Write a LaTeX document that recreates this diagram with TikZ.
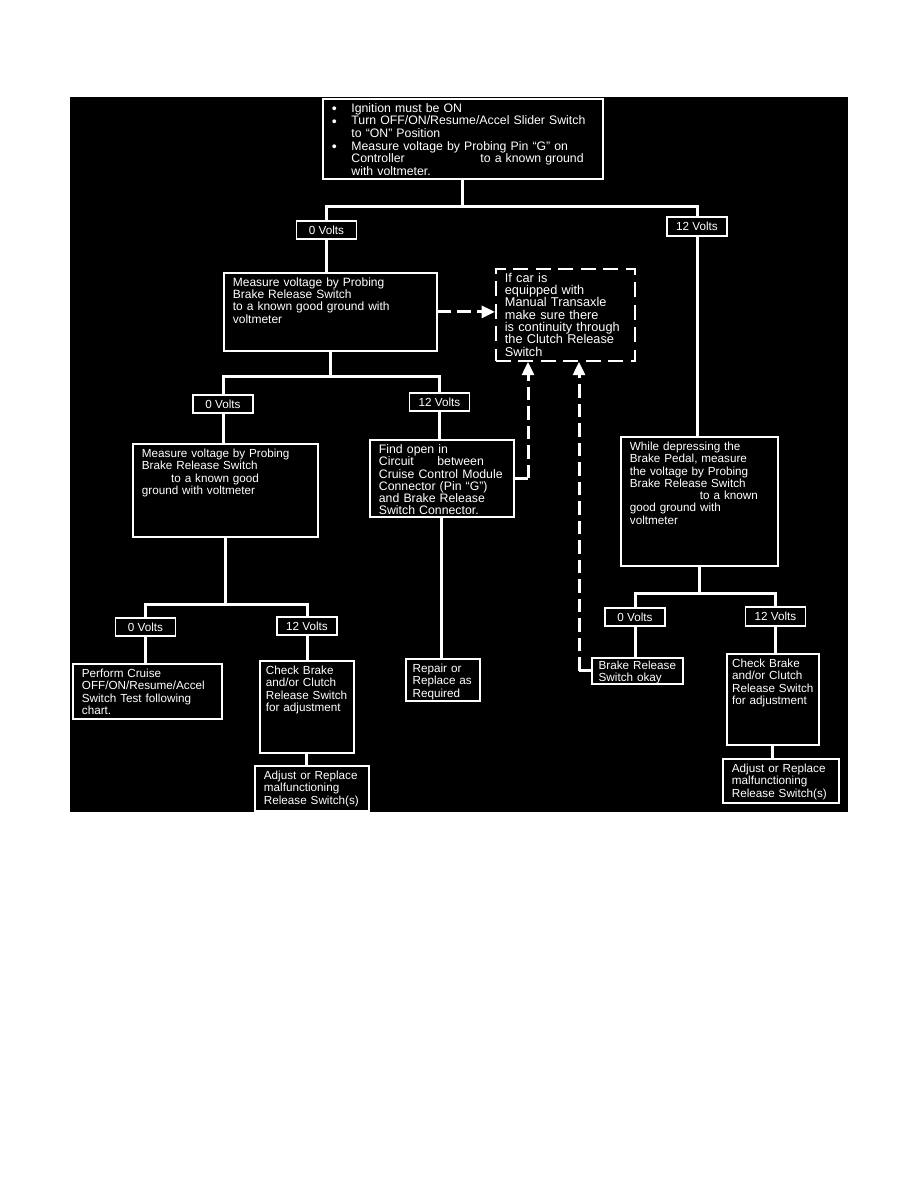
\documentclass[tikz,border=0pt]{standalone}
\usepackage{fontspec}
\setmainfont{Liberation Sans}
\usetikzlibrary{arrows.meta}
\definecolor{panel}{HTML}{000000}
\definecolor{ink}{HTML}{FFFFFF}
\newcommand{\bitem}{\makebox[13pt][l]{\raisebox{-0.8pt}{\fontsize{9.5pt}{8.4pt}\selectfont\textbullet}}}

\begin{document}
\begin{tikzpicture}[x=0.6667pt, y=-0.6667pt,
    stepbox/.style={draw=ink, fill=panel, line width=1.2pt, text=ink,
                 font=\fontsize{7.8pt}{8.2pt}\selectfont, align=left,
                 anchor=north west, inner xsep=6pt, inner ysep=3pt, text height=6pt},
    notebox/.style={stepbox, dash pattern=on 10pt off 5pt},
    voltbox/.style={draw=ink, fill=panel, line width=1.2pt, text=ink,
                 font=\fontsize{7.8pt}{8.2pt}\selectfont,
                 minimum width=40pt, minimum height=12.5pt, inner sep=1pt},
    conn/.style={draw=ink, line width=2pt},
    dasharrow/.style={conn, dash pattern=on 9pt off 4pt, -{Triangle[length=9pt,width=8pt]}},
  ]
  \fill[white] (0,0) rectangle (918,1188);
  \fill[panel] (70,97) rectangle (848,812);

  % boxes
  \node[stepbox, font=\fontsize{8.2pt}{8.4pt}\selectfont, text width=174.7pt, text depth=41.3pt] (test) at (322,98)
    {\bitem Ignition must be ON\\ \bitem Turn OFF/ON/Resume/Accel Slider Switch\\
     \hspace*{13pt}to ``ON'' Position\\ \bitem Measure voltage by Probing Pin ``G'' on\\
     \hspace*{13pt}\makebox[86pt][l]{Controller}to a known ground\\ \hspace*{13pt}with voltmeter.};
  \node[stepbox, font=\fontsize{8pt}{8.2pt}\selectfont, text width=130pt, text depth=40pt] (probe) at (223,272)
    {Measure voltage by Probing\\ Brake Release Switch\\ to a known good ground with\\ voltmeter};
  \node[notebox, font=\fontsize{8.5pt}{8.2pt}\selectfont, text width=80.7pt, text depth=49.3pt] (manual) at (495,268)
    {If car is\\ equipped with\\ Manual Transaxle\\ make sure there\\ is continuity through\\ the Clutch Release\\ Switch};
  \node[stepbox, text width=111.3pt, text depth=50pt] (probeb) at (132,443)
    {Measure voltage by Probing\\ Brake Release Switch\\ \hspace*{19.5pt}to a known good\\ ground with voltmeter};
  \node[stepbox, font=\fontsize{8.2pt}{8.2pt}\selectfont, text width=84pt, text depth=39.3pt] (findopen) at (369,439)
    {Find open in\\ \makebox[39pt][l]{Circuit}between\\ Cruise Control Module\\ Connector (Pin ``G'')\\ and Brake Release\\ Switch Connector.};
  \node[stepbox, text width=92.7pt, text depth=74pt] (pedal) at (620,436)
    {While depressing the\\ Brake Pedal, measure\\ the voltage by Probing\\ Brake Release Switch\\ \hspace*{46.7pt}to a known\\ good ground with\\ voltmeter};
  \node[stepbox, text width=87.3pt, text depth=24.7pt] (perform) at (72,663)
    {Perform Cruise\\ OFF/ON/Resume/Accel\\ Switch Test following\\ chart.};
  \node[stepbox, inner xsep=4pt, text width=54.7pt, text depth=49.3pt] (checka) at (259,660)
    {Check Brake\\ and/or Clutch\\ Release Switch\\ for adjustment};
  \node[stepbox, text width=64pt, text depth=18pt] (adjusta) at (254,765)
    {Adjust or Replace\\ malfunctioning\\ Release Switch(s)};
  \node[stepbox, inner xsep=4.5pt, text width=40.3pt, text depth=16pt] (repair) at (405,658)
    {Repair or\\ Replace as\\ Required};
  \node[stepbox, inner xsep=4.5pt, inner ysep=1.5pt, text width=51.7pt, text depth=8.3pt] (okay) at (591,657)
    {Brake Release\\ Switch okay};
  \node[stepbox, inner xsep=3.5pt, text width=54.3pt, text depth=48.7pt] (checkb) at (726,653)
    {Check Brake\\ and/or Clutch\\ Release Switch\\ for adjustment};
  \node[stepbox, text width=65.3pt, text depth=17.3pt] (adjustb) at (722,758)
    {Adjust or Replace\\ malfunctioning\\ Release Switch(s)};

  % readings
  \node[voltbox] (lo1) at (326.5,230) {0 Volts};
  \node[voltbox] (hi1) at (697,226.5) {12 Volts};
  \node[voltbox] (lo2) at (223,404) {0 Volts};
  \node[voltbox] (hi2) at (439.5,402) {12 Volts};
  \node[voltbox] (lo3) at (145.5,627) {0 Volts};
  \node[voltbox] (hi3) at (307,626) {12 Volts};
  \node[voltbox] (lo4) at (635,617) {0 Volts};
  \node[voltbox] (hi4) at (775.5,616.5) {12 Volts};

  % tree lines
  \draw[conn] (test.south) -- ++(0,27) coordinate (bar1);
  \draw[conn] (lo1.north) |- (bar1) -| (hi1.north);
  \draw[conn] (lo1.south) -- (lo1.south |- probe.north);
  \draw[conn] (hi1.south) -- (hi1.south |- pedal.north);
  \draw[conn] (probe.south) -- ++(0,25) coordinate (bar2);
  \draw[conn] (lo2.north) |- (bar2) -| (hi2.north);
  \draw[conn] (lo2.south) -- (lo2.south |- probeb.north);
  \draw[conn] (hi2.south) -- (hi2.south |- findopen.north);
  \draw[conn] (findopen.south) -- (findopen.south |- repair.north);
  \draw[conn] (probeb.south) -- ++(0,67) coordinate (bar3);
  \draw[conn] (lo3.north) |- (bar3) -| (hi3.north);
  \draw[conn] (lo3.south) -- (lo3.south |- perform.north);
  \draw[conn] (hi3.south) -- (hi3.south |- checka.north);
  \draw[conn] (checka.south) -- (checka.south |- adjusta.north);
  \draw[conn] (pedal.south) -- ++(0,27) coordinate (bar4);
  \draw[conn] (lo4.north) |- (bar4) -| (hi4.north);
  \draw[conn] (lo4.south) -- (lo4.south |- okay.north);
  \draw[conn] (hi4.south) -- (hi4.south |- checkb.north);
  \draw[conn] (checkb.south) -- (checkb.south |- adjustb.north);

  % dashed links to the clutch note
  \draw[dasharrow] (probe.east) -- (probe.east -| manual.west);
  \coordinate (tap1) at (528,0);
  \draw[conn] (findopen.east) -- (findopen.east -| tap1) coordinate (knee1);
  \draw[dasharrow] (knee1) -- (knee1 |- manual.south);
  \coordinate (tap2) at (579,0);
  \draw[conn] (okay.west) -- (okay.west -| tap2) coordinate (knee2);
  \draw[dasharrow] (knee2) -- (knee2 |- manual.south);
\end{tikzpicture}
\end{document}
